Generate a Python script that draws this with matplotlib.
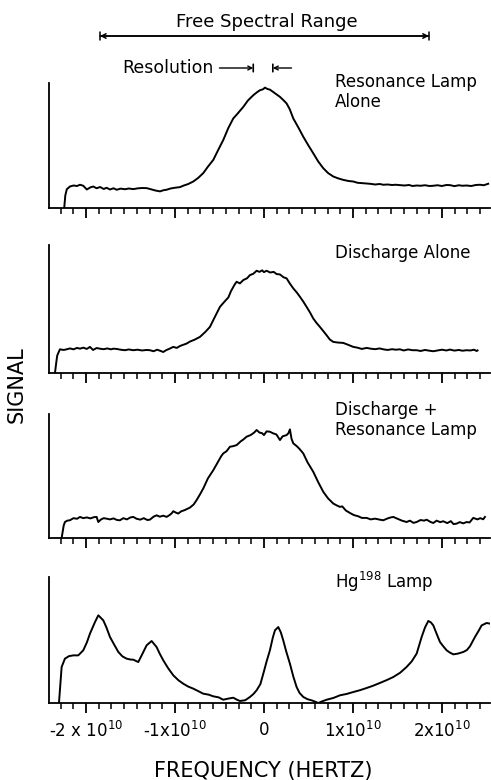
import numpy as np
import matplotlib
matplotlib.use("Agg")
import matplotlib.pyplot as plt
import matplotlib.ticker as ticker

plt.rcParams['font.family'] = ['DejaVu Sans']

# frequency in units of 1e10 Hz, signal as fraction of panel height
res_x = [-2.244, -2.232, -2.215, -2.18, -2.14, -2.10, -2.067, -2.03, -1.99, -1.95, -1.918, -1.88,
         -1.84, -1.80, -1.768, -1.73, -1.69, -1.655, -1.61, -1.56, -1.52, -1.468, -1.42, -1.37,
         -1.318, -1.27, -1.22, -1.168, -1.13, -1.094, -1.05, -1.00, -0.944, -0.90, -0.85, -0.794,
         -0.74, -0.682, -0.63, -0.569, -0.51, -0.457, -0.40, -0.345, -0.29, -0.232, -0.18, -0.12,
         -0.08, -0.045, -0.01, 0.011, 0.04, 0.067, 0.12, 0.18, 0.22, 0.255, 0.29, 0.33, 0.39,
         0.442, 0.50, 0.554, 0.61, 0.667, 0.72, 0.779, 0.83, 0.891, 0.95, 1.004, 1.05, 1.10,
         1.154, 1.20, 1.25, 1.30, 1.341, 1.39, 1.44, 1.48, 1.528, 1.58, 1.63, 1.67, 1.716, 1.76,
         1.81, 1.86, 1.903, 1.95, 2.00, 2.05, 2.09, 2.14, 2.19, 2.23, 2.277, 2.33, 2.38, 2.427,
         2.47, 2.52]
res_y = [0.0, 0.10, 0.15, 0.172, 0.18, 0.176, 0.186, 0.178, 0.148, 0.165, 0.172, 0.158,
         0.168, 0.152, 0.162, 0.148, 0.158, 0.146, 0.155, 0.150, 0.156, 0.151, 0.157, 0.160,
         0.159, 0.150, 0.140, 0.133, 0.142, 0.146, 0.156, 0.162, 0.167, 0.180, 0.192, 0.212,
         0.240, 0.279, 0.330, 0.385, 0.470, 0.544, 0.640, 0.716, 0.760, 0.809, 0.860, 0.902,
         0.925, 0.942, 0.950, 0.963, 0.952, 0.947, 0.920, 0.889, 0.862, 0.836, 0.790, 0.716, 0.640,
         0.570, 0.500, 0.438, 0.372, 0.318, 0.280, 0.252, 0.238, 0.225, 0.216, 0.212, 0.202, 0.199,
         0.196, 0.193, 0.188, 0.192, 0.186, 0.188, 0.184, 0.186, 0.183, 0.180, 0.184, 0.176, 0.180, 0.178,
         0.182, 0.176, 0.178, 0.182, 0.176, 0.184, 0.183, 0.175, 0.182, 0.178, 0.180, 0.176, 0.184, 0.186,
         0.182, 0.194]

dis_x = [-2.348, -2.33, -2.322, -2.292, -2.25, -2.217, -2.18, -2.14, -2.10, -2.067, -2.03, -1.99,
         -1.955, -1.92, -1.88, -1.843, -1.80, -1.76, -1.72, -1.69, -1.655, -1.61, -1.56, -1.52,
         -1.468, -1.42, -1.37, -1.32, -1.281, -1.24, -1.20, -1.16, -1.131, -1.10, -1.06, -1.019,
         -0.98, -0.94, -0.90, -0.869, -0.83, -0.78, -0.719, -0.66, -0.607, -0.55, -0.494, -0.44,
         -0.40, -0.37, -0.33, -0.307, -0.27, -0.232, -0.19, -0.157, -0.12, -0.082, -0.05, -0.02,
         0.00, 0.030, 0.07, 0.11, 0.142, 0.18, 0.22, 0.255, 0.29, 0.33, 0.37, 0.405, 0.44, 0.479,
         0.52, 0.554, 0.59, 0.629, 0.67, 0.704, 0.74, 0.779, 0.83, 0.891, 0.94, 1.004, 1.05, 1.10,
         1.154, 1.20, 1.25, 1.30, 1.341, 1.39, 1.44, 1.48, 1.528, 1.57, 1.62, 1.67, 1.716, 1.76,
         1.81, 1.86, 1.903, 1.95, 2.00, 2.05, 2.09, 2.14, 2.19, 2.23, 2.277, 2.32, 2.36, 2.39, 2.40]
dis_y = [0.0, 0.10, 0.138, 0.185, 0.180, 0.185, 0.192, 0.185, 0.196, 0.190, 0.198, 0.188,
         0.204, 0.180, 0.195, 0.190, 0.186, 0.192, 0.185, 0.190, 0.188, 0.182, 0.178, 0.184,
         0.178, 0.182, 0.176, 0.180, 0.178, 0.170, 0.182, 0.172, 0.164, 0.178, 0.190, 0.204,
         0.196, 0.212, 0.222, 0.230, 0.246, 0.260, 0.282, 0.320, 0.360, 0.440, 0.517, 0.560,
         0.590, 0.640, 0.690, 0.713, 0.700, 0.726, 0.740, 0.765, 0.775, 0.799, 0.790, 0.802,
         0.788, 0.799, 0.785, 0.790, 0.773, 0.770, 0.748, 0.739, 0.700, 0.661, 0.628, 0.595, 0.560, 0.517,
         0.470, 0.426, 0.392, 0.360, 0.325, 0.295, 0.262, 0.243, 0.238, 0.235, 0.222, 0.204, 0.198, 0.188,
         0.196, 0.190, 0.186, 0.192, 0.185, 0.180, 0.186, 0.182, 0.185, 0.176, 0.184, 0.178, 0.178, 0.172,
         0.180, 0.174, 0.170, 0.176, 0.182, 0.176, 0.183, 0.175, 0.180, 0.174, 0.178, 0.176, 0.182, 0.172, 0.176]

both_x = [-2.273, -2.25, -2.236, -2.21, -2.18, -2.14, -2.10, -2.067, -2.03, -1.99, -1.95, -1.91,
          -1.88, -1.861, -1.83, -1.80, -1.768, -1.73, -1.69, -1.65, -1.618, -1.58, -1.54, -1.50,
          -1.468, -1.43, -1.39, -1.35, -1.31, -1.281, -1.24, -1.206, -1.17, -1.13, -1.094, -1.06,
          -1.035, -1.019, -0.99, -0.963, -0.93, -0.89, -0.86, -0.832, -0.79, -0.757, -0.72, -0.682,
          -0.63, -0.569, -0.52, -0.48, -0.457, -0.42, -0.382, -0.35, -0.307, -0.26, -0.23, -0.195,
          -0.15, -0.11, -0.082, -0.05, -0.02, 0.00, 0.03, 0.067, 0.10, 0.14, 0.18, 0.21, 0.255,
          0.275, 0.292, 0.31, 0.33, 0.37, 0.40, 0.442, 0.49, 0.554, 0.61, 0.667, 0.72, 0.779, 0.82,
          0.854, 0.88, 0.92, 0.966, 1.01, 1.06, 1.10, 1.154, 1.20, 1.25, 1.30, 1.341, 1.39, 1.42,
          1.453, 1.50, 1.55, 1.603, 1.64, 1.68, 1.716, 1.76, 1.80, 1.828, 1.87, 1.903, 1.94, 1.98,
          2.015, 2.06, 2.10, 2.13, 2.165, 2.20, 2.24, 2.277, 2.31, 2.352, 2.40, 2.43, 2.464, 2.483]
both_y = [0.0, 0.10, 0.129, 0.140, 0.143, 0.160, 0.155, 0.170, 0.160, 0.166, 0.158, 0.168,
          0.170, 0.129, 0.150, 0.160, 0.156, 0.150, 0.158, 0.145, 0.143, 0.160, 0.150, 0.166,
          0.170, 0.155, 0.148, 0.160, 0.145, 0.148, 0.172, 0.183, 0.172, 0.180, 0.170, 0.185,
          0.200, 0.216, 0.205, 0.197, 0.215, 0.225, 0.235, 0.245, 0.270, 0.305, 0.350, 0.399,
          0.480, 0.547, 0.610, 0.660, 0.682, 0.700, 0.736, 0.740, 0.749, 0.780, 0.795, 0.817,
          0.830, 0.850, 0.871, 0.850, 0.845, 0.830, 0.860, 0.857, 0.845, 0.835, 0.790, 0.820, 0.830,
          0.845, 0.876, 0.800, 0.763, 0.740, 0.718, 0.682, 0.610, 0.534, 0.450, 0.372, 0.320, 0.278, 0.262,
          0.251, 0.255, 0.222, 0.202, 0.185, 0.175, 0.162, 0.162, 0.150, 0.156, 0.148, 0.143, 0.158, 0.165,
          0.170, 0.155, 0.140, 0.129, 0.140, 0.122, 0.129, 0.145, 0.140, 0.148, 0.130, 0.121, 0.140, 0.128,
          0.135, 0.120, 0.136, 0.112, 0.116, 0.128, 0.118, 0.129, 0.125, 0.162, 0.150, 0.160, 0.151, 0.170]

hg_x = [-2.303, -2.273, -2.236, -2.19, -2.142, -2.086, -2.03, -1.99, -1.955, -1.90, -1.861,
        -1.805, -1.77, -1.73, -1.68, -1.636, -1.59, -1.543, -1.50, -1.468, -1.412, -1.374, -1.318,
        -1.262, -1.206, -1.17, -1.131, -1.08, -1.019, -0.96, -0.906, -0.85, -0.794, -0.74, -0.682,
        -0.62, -0.569, -0.51, -0.457, -0.40, -0.345, -0.30, -0.27, -0.21, -0.157, -0.12, -0.082,
        -0.04, -0.007, 0.03, 0.067, 0.10, 0.124, 0.161, 0.19, 0.217, 0.25, 0.292, 0.33, 0.367,
        0.40, 0.442, 0.49, 0.536, 0.57, 0.611, 0.65, 0.704, 0.78, 0.854, 0.93, 1.004, 1.08, 1.154,
        1.23, 1.303, 1.38, 1.453, 1.53, 1.603, 1.66, 1.716, 1.772, 1.81, 1.847, 1.875, 1.903,
        1.94, 1.978, 2.015, 2.053, 2.09, 2.128, 2.18, 2.24, 2.28, 2.315, 2.371, 2.41, 2.446, 2.502,
        2.539]
hg_y = [0.0, 0.286, 0.352, 0.372, 0.378, 0.378, 0.418, 0.480, 0.550, 0.640, 0.696,
        0.656, 0.600, 0.524, 0.460, 0.405, 0.370, 0.352, 0.345, 0.344, 0.325, 0.378, 0.458,
        0.492, 0.444, 0.390, 0.339, 0.280, 0.220, 0.180, 0.153, 0.130, 0.114, 0.095, 0.074,
        0.066, 0.053, 0.045, 0.026, 0.035, 0.042, 0.025, 0.016, 0.022, 0.048, 0.070, 0.101,
        0.150, 0.233, 0.330, 0.418, 0.520, 0.577, 0.603, 0.560, 0.497, 0.410, 0.312, 0.210, 0.127,
        0.080, 0.048, 0.030, 0.021, 0.012, 0.0, 0.012, 0.026, 0.040, 0.061, 0.072, 0.087, 0.102, 0.119,
        0.138, 0.159, 0.182, 0.206, 0.240, 0.286, 0.330, 0.392, 0.524, 0.600, 0.651, 0.640, 0.616,
        0.550, 0.484, 0.450, 0.418, 0.400, 0.386, 0.392, 0.405, 0.420, 0.450, 0.524, 0.570, 0.616, 0.635,
        0.630]

panel_labels = ["Resonance Lamp\nAlone", "Discharge Alone", "Discharge +\nResonance Lamp",
                "Hg$^{198}$ Lamp"]
major_ticks = [-2, -1, 0, 1, 2]
tick_labels = ["-2 x 10$^{10}$", "-1x10$^{10}$", "0", "1x10$^{10}$", "2x10$^{10}$"]

W, H = 491, 780
fig = plt.figure(figsize=(W / 100, H / 100), dpi=100)

# panel positions in pixels (top, bottom)
panel_px = [(83, 208), (245, 373), (414, 538), (577, 703)]
traces = [(res_x, res_y), (dis_x, dis_y), (both_x, both_y), (hg_x, hg_y)]
label_y = [92, 253, 420, 582]

axes = []
for i, ((top, bot), (xs, ys)) in enumerate(zip(panel_px, traces)):
    ax = fig.add_axes([49 / W, 1 - bot / H, (490 - 49) / W, (bot - top) / H])
    ax.plot(xs, ys, color="black", lw=1.4, solid_joinstyle="round")
    ax.set_xlim(-2.415, 2.54)
    ax.set_ylim(0, 1)
    ax.spines[["top", "right"]].set_visible(False)
    ax.spines[["left", "bottom"]].set_linewidth(1.3)
    ax.set_yticks([])
    ax.xaxis.set_major_locator(ticker.FixedLocator(major_ticks))
    ax.xaxis.set_minor_locator(ticker.MultipleLocator(1 / 7))
    ax.tick_params(axis="x", which="major", length=7, width=1.3, direction="out")
    ax.tick_params(axis="x", which="minor", length=4, width=1.1, direction="out")
    if i < 3:
        ax.set_xticklabels([])
    else:
        ax.set_xticklabels(tick_labels, fontsize=12)
        ax.tick_params(axis="x", which="major", pad=6)
    fig.text(335 / W, 1 - label_y[i] / H, panel_labels[i], fontsize=12, va="center",
             ha="left", linespacing=1.1)
    axes.append(ax)

# top annotations
top_ax = axes[0]
fig.text(267 / W, 1 - 22 / H, "Free Spectral Range", fontsize=13, ha="center", va="center")
fsr_y = (208 - 36) / (208 - 83)
top_ax.annotate("", xy=(-1.843, fsr_y), xytext=(1.854, fsr_y),
                xycoords=("data", "axes fraction"),
                arrowprops=dict(arrowstyle="<->", lw=1.1, color="black", shrinkA=0, shrinkB=0,
                                mutation_scale=8), annotation_clip=False)
top_ax.annotate("", xy=(-1.843, fsr_y), xytext=(1.854, fsr_y),
                xycoords=("data", "axes fraction"),
                arrowprops=dict(arrowstyle="|-|, widthA=0.3, widthB=0.3", lw=1.1, color="black",
                                shrinkA=0, shrinkB=0), annotation_clip=False)

res_ly = (208 - 68) / (208 - 83)
fig.text(122 / W, 1 - 68 / H, "Resolution", fontsize=12.5, ha="left", va="center")
top_ax.annotate("", xy=(-0.12, res_ly), xytext=(-0.50, res_ly),
                xycoords=("data", "axes fraction"),
                arrowprops=dict(arrowstyle="->", lw=1.0, color="black", shrinkA=0, shrinkB=0,
                                mutation_scale=7), annotation_clip=False)
top_ax.annotate("", xy=(0.10, res_ly), xytext=(0.31, res_ly),
                xycoords=("data", "axes fraction"),
                arrowprops=dict(arrowstyle="->", lw=1.0, color="black", shrinkA=0, shrinkB=0,
                                mutation_scale=7), annotation_clip=False)
for xb in [-0.12, 0.10]:
    top_ax.annotate("", xy=(xb, res_ly - 0.03), xytext=(xb, res_ly + 0.03),
                    xycoords=("data", "axes fraction"),
                    arrowprops=dict(arrowstyle="-", lw=1.2, color="black", shrinkA=0, shrinkB=0),
                    annotation_clip=False)

fig.text(17 / W, 1 - 385 / H, "SIGNAL", fontsize=15, rotation=90, ha="center", va="center")
fig.text(263 / W, 1 - 771 / H, "FREQUENCY (HERTZ)", fontsize=15, ha="center", va="center")

fig.savefig("out.png", dpi=100)
